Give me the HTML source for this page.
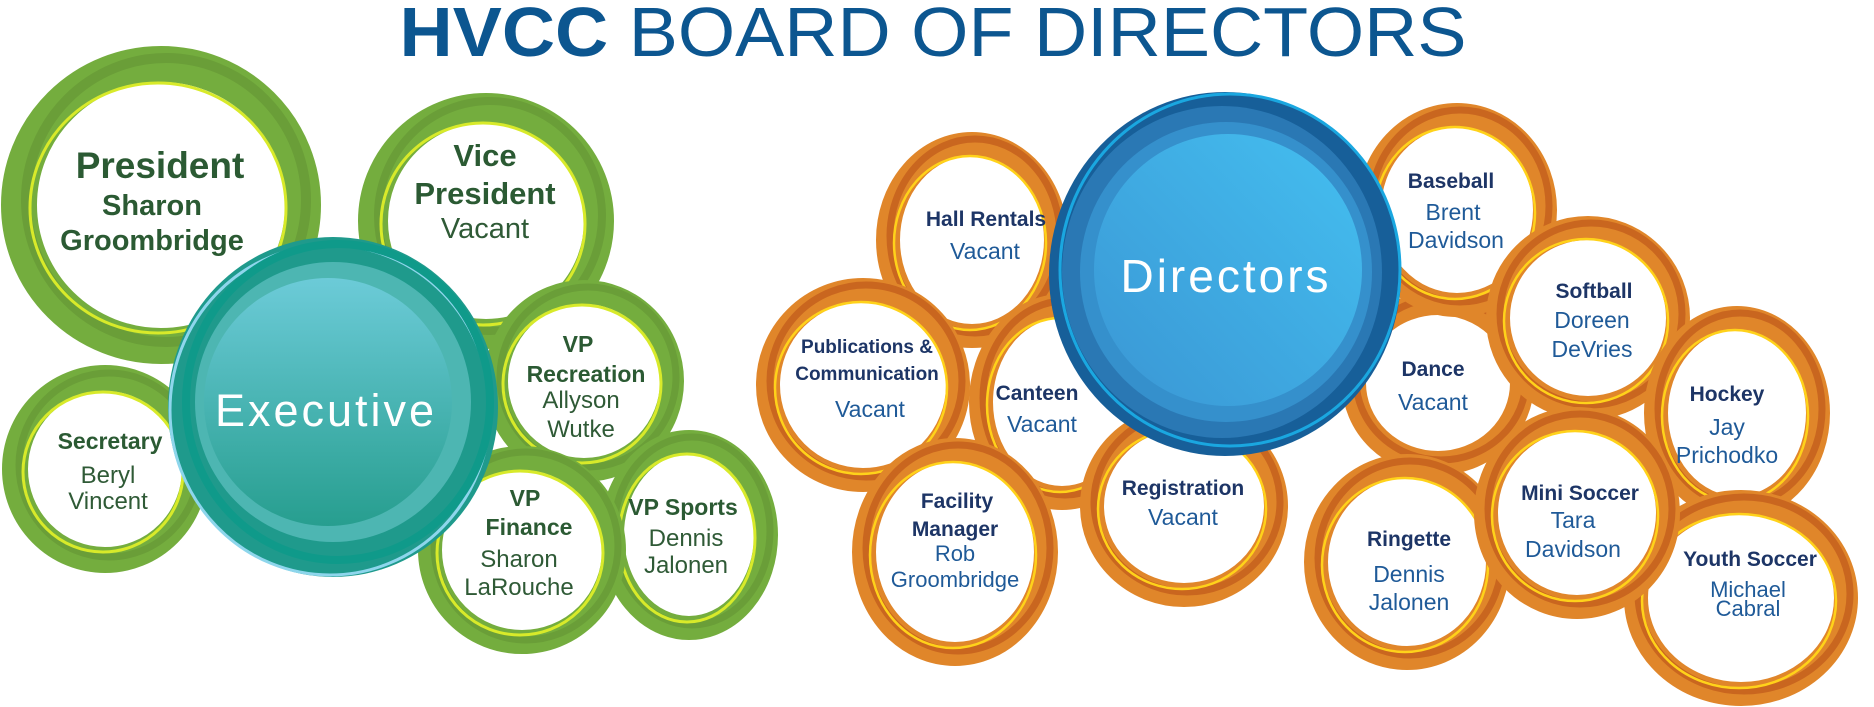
<!DOCTYPE html>
<html><head><meta charset="utf-8"><style>
html,body{margin:0;padding:0;background:#fff;}
svg{display:block;}
text{font-family:"Liberation Sans",sans-serif;text-anchor:middle;}
.gb{fill:#2b5a33;font-weight:bold;}
.gr{fill:#2f5a36;}
.ob{fill:#1d3566;font-weight:bold;}
.or{fill:#1f5a98;}
</style></head><body>
<svg width="1874" height="707" viewBox="0 0 1874 707" xmlns="http://www.w3.org/2000/svg">
<defs>
<linearGradient id="exi" x1="0" y1="0" x2="0" y2="1"><stop offset="0" stop-color="#6ccbd8"/><stop offset="1" stop-color="#279e8f"/></linearGradient>
<linearGradient id="dii" x1="0" y1="1" x2="1" y2="0"><stop offset="0" stop-color="#3a96d4"/><stop offset="1" stop-color="#44bff0"/></linearGradient>
<g id="dummy"></g>
</defs>
<text x="933" y="56" style="font-size:70px;fill:#0c5690;text-anchor:middle" textLength="1067" lengthAdjust="spacingAndGlyphs"><tspan font-weight="bold">HVCC</tspan> BOARD OF DIRECTORS</text>

<!-- GREEN RINGS -->
<g stroke-linecap="round">
<!-- President -->
<ellipse cx="161" cy="205" rx="142" ry="141" fill="#fff" stroke="#74ad3e" stroke-width="36"/>
<ellipse cx="166" cy="200" rx="140" ry="142" fill="none" stroke="#6a9e38" stroke-width="10"/>
<ellipse cx="158" cy="208" rx="128" ry="125" fill="none" stroke="#d8ea2a" stroke-width="3"/>
<!-- VP -->
<ellipse cx="486" cy="221" rx="113" ry="113" fill="#fff" stroke="#74ad3e" stroke-width="30"/>
<ellipse cx="490" cy="216" rx="112" ry="115" fill="none" stroke="#6a9e38" stroke-width="8"/>
<ellipse cx="483" cy="224" rx="102" ry="101" fill="none" stroke="#d8ea2a" stroke-width="3"/>
<!-- Secretary -->
<ellipse cx="105" cy="469" rx="90" ry="91" fill="#fff" stroke="#74ad3e" stroke-width="26"/>
<ellipse cx="109" cy="465" rx="90" ry="92" fill="none" stroke="#6a9e38" stroke-width="7"/>
<ellipse cx="103" cy="472" rx="80" ry="80" fill="none" stroke="#d8ea2a" stroke-width="3"/>
<!-- VP Recreation -->
<ellipse cx="584" cy="381" rx="88" ry="89" fill="#fff" stroke="#74ad3e" stroke-width="24"/>
<ellipse cx="588" cy="377" rx="88" ry="90" fill="none" stroke="#6a9e38" stroke-width="7"/>
<ellipse cx="582" cy="384" rx="79" ry="79" fill="none" stroke="#d8ea2a" stroke-width="3"/>
<!-- VP Sports -->
<ellipse cx="689" cy="535" rx="77" ry="93" fill="#fff" stroke="#74ad3e" stroke-width="24"/>
<ellipse cx="692" cy="531" rx="78" ry="94" fill="none" stroke="#6a9e38" stroke-width="7"/>
<ellipse cx="687" cy="538" rx="68" ry="84" fill="none" stroke="#d8ea2a" stroke-width="3"/>
<!-- VP Finance -->
<ellipse cx="522" cy="550" rx="92" ry="92" fill="#fff" stroke="#74ad3e" stroke-width="24"/>
<ellipse cx="526" cy="546" rx="92" ry="94" fill="none" stroke="#6a9e38" stroke-width="7"/>
<ellipse cx="520" cy="553" rx="83" ry="82" fill="none" stroke="#d8ea2a" stroke-width="3"/>
</g>

<!-- Executive -->
<ellipse cx="333" cy="407" rx="165" ry="170" fill="#1f9a8c"/>
<ellipse cx="330" cy="410" rx="160" ry="165" fill="none" stroke="#8ed6ec" stroke-width="3"/>
<ellipse cx="338" cy="402" rx="152" ry="158" fill="none" stroke="#0f9a8a" stroke-width="8"/>
<ellipse cx="333" cy="402" rx="138" ry="140" fill="#4db6b2"/>
<ellipse cx="328" cy="402" rx="124" ry="124" fill="url(#exi)"/>
<text x="326" y="426" style="font-size:45px;fill:#fff;letter-spacing:3px">Executive</text>

<!-- ORANGE RINGS -->
<g>
<!-- Hall Rentals -->
<ellipse cx="972" cy="240" rx="84" ry="96" fill="#fff" stroke="#e0862a" stroke-width="24"/>
<ellipse cx="975" cy="236" rx="85" ry="97" fill="none" stroke="#c9661f" stroke-width="7"/>
<ellipse cx="970" cy="243" rx="76" ry="87" fill="none" stroke="#ffd21a" stroke-width="2.5"/>
<!-- Canteen -->
<ellipse cx="1062" cy="402" rx="81" ry="96" fill="#fff" stroke="#e0862a" stroke-width="24"/>
<ellipse cx="1065" cy="398" rx="82" ry="97" fill="none" stroke="#c9661f" stroke-width="7"/>
<ellipse cx="1060" cy="405" rx="73" ry="87" fill="none" stroke="#ffd21a" stroke-width="2.5"/>
<!-- Registration -->
<ellipse cx="1184" cy="506" rx="92" ry="89" fill="#fff" stroke="#e0862a" stroke-width="24"/>
<ellipse cx="1187" cy="502" rx="93" ry="90" fill="none" stroke="#c9661f" stroke-width="7"/>
<ellipse cx="1182" cy="509" rx="84" ry="80" fill="none" stroke="#ffd21a" stroke-width="2.5"/>
<!-- Publications -->
<ellipse cx="863" cy="385" rx="95" ry="95" fill="#fff" stroke="#e0862a" stroke-width="24"/>
<ellipse cx="866" cy="381" rx="96" ry="96" fill="none" stroke="#c9661f" stroke-width="7"/>
<ellipse cx="861" cy="388" rx="86" ry="86" fill="none" stroke="#ffd21a" stroke-width="2.5"/>
<!-- Facility -->
<ellipse cx="955" cy="552" rx="91" ry="102" fill="#fff" stroke="#e0862a" stroke-width="24"/>
<ellipse cx="958" cy="548" rx="92" ry="103" fill="none" stroke="#c9661f" stroke-width="7"/>
<ellipse cx="953" cy="555" rx="83" ry="93" fill="none" stroke="#ffd21a" stroke-width="2.5"/>
<!-- Dance -->
<ellipse cx="1438" cy="383" rx="84" ry="80" fill="#fff" stroke="#e0862a" stroke-width="24"/>
<ellipse cx="1441" cy="379" rx="85" ry="81" fill="none" stroke="#c9661f" stroke-width="7"/>
<!-- Baseball -->
<ellipse cx="1457" cy="210" rx="88" ry="95" fill="#fff" stroke="#e0862a" stroke-width="24"/>
<ellipse cx="1460" cy="206" rx="89" ry="96" fill="none" stroke="#c9661f" stroke-width="7"/>
<ellipse cx="1455" cy="213" rx="80" ry="86" fill="none" stroke="#ffd21a" stroke-width="2.5"/>
<!-- Softball -->
<ellipse cx="1588" cy="318" rx="90" ry="90" fill="#fff" stroke="#e0862a" stroke-width="24"/>
<ellipse cx="1591" cy="314" rx="91" ry="91" fill="none" stroke="#c9661f" stroke-width="7"/>
<ellipse cx="1586" cy="321" rx="82" ry="82" fill="none" stroke="#ffd21a" stroke-width="2.5"/>
<!-- Hockey -->
<ellipse cx="1737" cy="413" rx="81" ry="95" fill="#fff" stroke="#e0862a" stroke-width="24"/>
<ellipse cx="1740" cy="409" rx="82" ry="96" fill="none" stroke="#c9661f" stroke-width="7"/>
<ellipse cx="1735" cy="416" rx="73" ry="86" fill="none" stroke="#ffd21a" stroke-width="2.5"/>
<!-- Youth Soccer -->
<ellipse cx="1741" cy="598" rx="105" ry="96" fill="#fff" stroke="#e0862a" stroke-width="24"/>
<ellipse cx="1744" cy="594" rx="106" ry="97" fill="none" stroke="#c9661f" stroke-width="7"/>
<ellipse cx="1739" cy="601" rx="97" ry="87" fill="none" stroke="#ffd21a" stroke-width="2.5"/>
<!-- Ringette -->
<ellipse cx="1407" cy="562" rx="91" ry="96" fill="#fff" stroke="#e0862a" stroke-width="24"/>
<ellipse cx="1410" cy="558" rx="92" ry="97" fill="none" stroke="#c9661f" stroke-width="7"/>
<ellipse cx="1405" cy="565" rx="83" ry="87" fill="none" stroke="#ffd21a" stroke-width="2.5"/>
<!-- Mini Soccer -->
<ellipse cx="1577" cy="513" rx="91" ry="94" fill="#fff" stroke="#e0862a" stroke-width="24"/>
<ellipse cx="1580" cy="509" rx="92" ry="95" fill="none" stroke="#c9661f" stroke-width="7"/>
<ellipse cx="1575" cy="516" rx="83" ry="85" fill="none" stroke="#ffd21a" stroke-width="2.5"/>
</g>

<!-- Directors -->
<ellipse cx="1225" cy="274" rx="176" ry="182" fill="#175f99"/>
<ellipse cx="1230" cy="270" rx="170" ry="176" fill="none" stroke="#1aa7e0" stroke-width="3"/>
<ellipse cx="1222" cy="272" rx="160" ry="166" fill="#2a78b4"/>
<ellipse cx="1226" cy="272" rx="146" ry="150" fill="#3590cc"/>
<ellipse cx="1228" cy="270" rx="134" ry="136" fill="url(#dii)"/>
<text x="1226" y="292" style="font-size:46px;fill:#fff;letter-spacing:3px">Directors</text>

<!-- GREEN TEXT -->
<text class="gb" x="160" y="178" style="font-size:37px">President</text>
<text class="gb" x="152" y="215" style="font-size:29px">Sharon</text>
<text class="gb" x="152" y="250" style="font-size:29px">Groombridge</text>
<text class="gb" x="485" y="166" style="font-size:31px">Vice</text>
<text class="gb" x="485" y="204" style="font-size:31px">President</text>
<text class="gr" x="485" y="238" style="font-size:29px">Vacant</text>
<text class="gb" x="110" y="449" style="font-size:23px">Secretary</text>
<text class="gr" x="108" y="483" style="font-size:24px">Beryl</text>
<text class="gr" x="108" y="509" style="font-size:24px">Vincent</text>
<text class="gb" x="578" y="352" style="font-size:23px">VP</text>
<text class="gb" x="586" y="382" style="font-size:23px">Recreation</text>
<text class="gr" x="581" y="408" style="font-size:24px">Allyson</text>
<text class="gr" x="581" y="437" style="font-size:24px">Wutke</text>
<text class="gb" x="525" y="506" style="font-size:23px">VP</text>
<text class="gb" x="529" y="535" style="font-size:23px">Finance</text>
<text class="gr" x="519" y="567" style="font-size:24px">Sharon</text>
<text class="gr" x="519" y="595" style="font-size:24px">LaRouche</text>
<text class="gb" x="683" y="515" style="font-size:23px">VP Sports</text>
<text class="gr" x="686" y="546" style="font-size:24px">Dennis</text>
<text class="gr" x="686" y="573" style="font-size:24px">Jalonen</text>

<!-- ORANGE TEXT -->
<text class="ob" x="986" y="226" style="font-size:21px">Hall Rentals</text>
<text class="or" x="985" y="259" style="font-size:23px">Vacant</text>
<text class="ob" x="867" y="353" style="font-size:19px">Publications &amp;</text>
<text class="ob" x="867" y="380" style="font-size:19px">Communication</text>
<text class="or" x="870" y="417" style="font-size:23px">Vacant</text>
<text class="ob" x="1037" y="400" style="font-size:21px">Canteen</text>
<text class="or" x="1042" y="432" style="font-size:23px">Vacant</text>
<text class="ob" x="957" y="508" style="font-size:21px">Facility</text>
<text class="ob" x="955" y="536" style="font-size:21px">Manager</text>
<text class="or" x="955" y="561" style="font-size:22px">Rob</text>
<text class="or" x="955" y="587" style="font-size:22px">Groombridge</text>
<text class="ob" x="1183" y="495" style="font-size:21px">Registration</text>
<text class="or" x="1183" y="525" style="font-size:23px">Vacant</text>
<text class="ob" x="1451" y="188" style="font-size:21px">Baseball</text>
<text class="or" x="1453" y="220" style="font-size:23px">Brent</text>
<text class="or" x="1456" y="248" style="font-size:23px">Davidson</text>
<text class="ob" x="1594" y="298" style="font-size:21px">Softball</text>
<text class="or" x="1592" y="328" style="font-size:23px">Doreen</text>
<text class="or" x="1592" y="357" style="font-size:23px">DeVries</text>
<text class="ob" x="1433" y="376" style="font-size:21px">Dance</text>
<text class="or" x="1433" y="410" style="font-size:23px">Vacant</text>
<text class="ob" x="1727" y="401" style="font-size:21px">Hockey</text>
<text class="or" x="1727" y="435" style="font-size:23px">Jay</text>
<text class="or" x="1727" y="463" style="font-size:23px">Prichodko</text>
<text class="ob" x="1409" y="546" style="font-size:21px">Ringette</text>
<text class="or" x="1409" y="582" style="font-size:23px">Dennis</text>
<text class="or" x="1409" y="610" style="font-size:23px">Jalonen</text>
<text class="ob" x="1580" y="500" style="font-size:21px">Mini Soccer</text>
<text class="or" x="1573" y="528" style="font-size:23px">Tara</text>
<text class="or" x="1573" y="557" style="font-size:23px">Davidson</text>
<text class="ob" x="1750" y="566" style="font-size:21px">Youth Soccer</text>
<text class="or" x="1748" y="597" style="font-size:22px">Michael</text>
<text class="or" x="1748" y="616" style="font-size:22px">Cabral</text>
</svg>
</body></html>
